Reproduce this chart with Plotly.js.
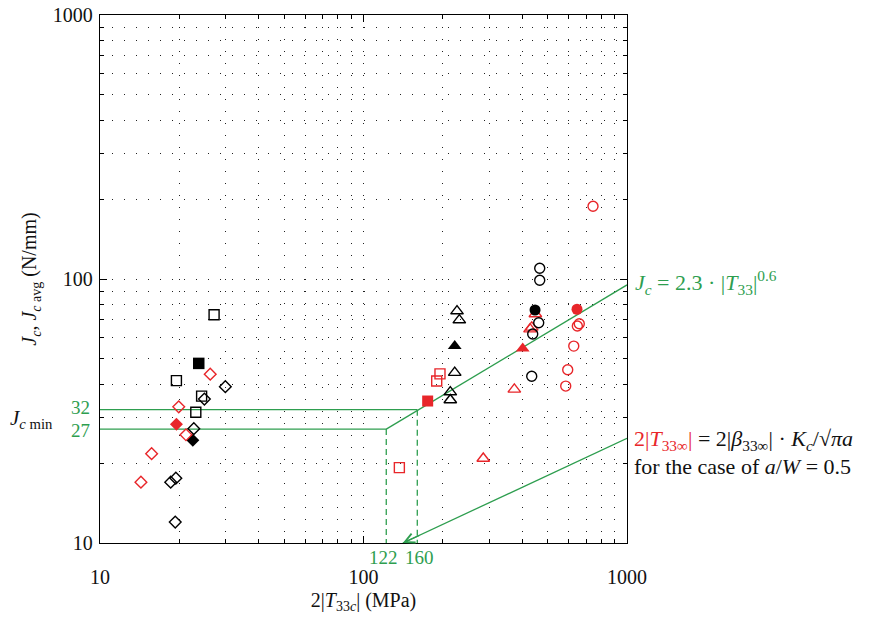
<!DOCTYPE html>
<html>
<head>
<meta charset="utf-8">
<script src="https://cdn.plot.ly/plotly-3.0.1.min.js"></script>
<style>html,body{margin:0;padding:0;background:#fff;}#chart{width:884px;height:617px;}</style>
</head>
<body>
<div id="chart"></div>
<script>
// ---- data ----
const blkOpenSqX = [27.1, 19.5, 24.3, 23.1];
const blkOpenSqY = [73.2, 41.2, 36.0, 31.3];
const blkFillSqX = [23.7];
const blkFillSqY = [47.9];
const blkOpenDiaX = [29.9, 24.9, 22.7, 19.4, 18.55, 19.3];
const blkOpenDiaY = [39.1, 35.1, 27.1, 17.6, 17.0, 12.0];
const blkFillDiaX = [22.5];
const blkFillDiaY = [24.5];
const redOpenDiaX = [26.2, 19.9, 21.2, 15.7, 14.3];
const redOpenDiaY = [43.6, 32.8, 25.7, 21.8, 17.0];
const redFillDiaX = [19.5];
const redFillDiaY = [28.2];
const blkOpenTriX = [226.4, 231.0, 221.9, 213.5, 213.5];
const blkOpenTriY = [75.6, 69.9, 44.2, 37.3, 34.8];
const blkFillTriX = [221.9];
const blkFillTriY = [55.7];
const redOpenTriX = [449.0, 434.9, 428.5, 373.6, 284.8];
const redOpenTriY = [73.7, 65.6, 64.6, 38.2, 20.9];
const redFillTriX = [402.0];
const redFillTriY = [54.6];
const redOpenSqX = [195.1, 189.6, 136.8];
const redOpenSqY = [43.7, 41.1, 19.3];
const redFillSqX = [175.2];
const redFillSqY = [34.5];
const blkOpenCirX = [466.4, 466.4, 462.3, 438.7, 434.9];
const blkOpenCirY = [109.8, 98.9, 68.3, 61.9, 42.8];
const blkFillCirX = [447.7];
const blkFillCirY = [76.3];
const redOpenCirX = [743, 659, 648, 628, 595.7, 585.4];
const redOpenCirY = [188.6, 67.7, 66.4, 55.7, 45.3, 39.3];
const redFillCirX = [646];
const redFillCirY = [76.8];

// reference lines
const jcMinLevels = [32, 27];
const tLimits = [160, 122];
const fitLineX = [122, 1000];
const fitLineY = [27, 95];
const tInfLineX = [141, 1000];
const tInfLineY = [10, 24.9];
const xTickVals = [10, 100, 1000];
const yTickVals = [10, 100, 1000];

const GREEN = '#2e9e4f';
const RED = '#e8262a';
const SERIF = 'Liberation Serif, DejaVu Serif, serif';

function mk(x, y, symbol, color, filled, size) {
  return {
    x: x, y: y, type: 'scatter', mode: 'markers', showlegend: false, hoverinfo: 'x+y',
    marker: {
      symbol: symbol + (filled ? '' : '-open'),
      size: size, color: color,
      line: {color: color, width: filled ? 0 : 1.4}
    }
  };
}
function seg(x, y, dash) {
  return {x: x, y: y, type: 'scatter', mode: 'lines', showlegend: false, hoverinfo: 'skip',
          line: {color: GREEN, width: 1.3, dash: dash || 'solid'}};
}

const traces = [];
traces.push(seg([10, tLimits[0]], [jcMinLevels[0], jcMinLevels[0]]));
traces.push(seg([10, tLimits[1]], [jcMinLevels[1], jcMinLevels[1]]));
traces.push(seg([tLimits[0], tLimits[0]], [jcMinLevels[0], 10], '6px,4px'));
traces.push(seg([tLimits[1], tLimits[1]], [jcMinLevels[1], 10], '6px,4px'));
traces.push(seg(fitLineX, fitLineY));
traces.push(seg(tInfLineX, tInfLineY));

traces.push(mk(blkOpenSqX, blkOpenSqY, 'square', '#000', false, 10));
traces.push(mk(blkFillSqX, blkFillSqY, 'square', '#000', true, 11.5));
traces.push(mk(blkOpenDiaX, blkOpenDiaY, 'diamond', '#000', false, 9));
traces.push(mk(blkFillDiaX, blkFillDiaY, 'diamond', '#000', true, 10));
traces.push(mk(redOpenDiaX, redOpenDiaY, 'diamond', RED, false, 9));
traces.push(mk(redFillDiaX, redFillDiaY, 'diamond', RED, true, 10));
traces.push(mk(blkOpenTriX, blkOpenTriY, 'triangle-up', '#000', false, 11));
traces.push(mk(blkFillTriX, blkFillTriY, 'triangle-up', '#000', true, 12));
traces.push(mk(redOpenTriX, redOpenTriY, 'triangle-up', RED, false, 11));
traces.push(mk(redFillTriX, redFillTriY, 'triangle-up', RED, true, 12));
traces.push(mk(redOpenSqX, redOpenSqY, 'square', RED, false, 10));
traces.push(mk(redFillSqX, redFillSqY, 'square', RED, true, 11));
traces.push(mk(blkOpenCirX, blkOpenCirY, 'circle', '#000', false, 10));
traces.push(mk(blkFillCirX, blkFillCirY, 'circle', '#000', true, 11));
traces.push(mk(redOpenCirX, redOpenCirY, 'circle', RED, false, 10));
traces.push(mk(redFillCirX, redFillCirY, 'circle', RED, true, 11));

const gridCommon = {showgrid: true, gridcolor: '#222', gridwidth: 1, griddash: '1px,11px'};

function axis(tv) {
  return Object.assign({
    type: 'log', range: [1, 3], tickmode: 'array', tickvals: tv, ticktext: tv.map(String),
    ticks: 'inside', ticklen: 7, tickwidth: 1, tickcolor: '#000',
    showline: true, linecolor: '#000', linewidth: 1.3, mirror: 'allticks',
    zeroline: false, tickfont: {family: SERIF, size: 20, color: '#111'},
    minor: Object.assign({dtick: 'D1', ticks: 'inside', ticklen: 4, tickcolor: '#000'}, gridCommon)
  }, gridCommon);
}

const xa = axis(xTickVals);
xa.ticklabelstandoff = 16;
xa.title = {text: '2|<i>T</i><sub>33<i>c</i></sub>| (MPa)', font: {family: SERIF, size: 20, color: '#111'}, standoff: 5};
const ya = axis(yTickVals);
ya.ticklabelstandoff = 2;
ya.title = {text: '<i>J<sub>c</sub></i>, <i>J</i><sub><i>c</i> avg</sub> (N/mm)', font: {family: SERIF, size: 20, color: '#111'}, standoff: 10};

const ann = [];
const aFont = (c, s) => ({family: SERIF, size: s || 22, color: c});
ann.push({xref: 'paper', yref: 'y', x: -0.015, y: Math.log10(jcMinLevels[0]), text: String(jcMinLevels[0]),
          showarrow: false, xanchor: 'right', yanchor: 'middle', yshift: 2, font: aFont(GREEN, 19)});
ann.push({xref: 'paper', yref: 'y', x: -0.015, y: Math.log10(jcMinLevels[1]), text: String(jcMinLevels[1]),
          showarrow: false, xanchor: 'right', yanchor: 'middle', yshift: -1, font: aFont(GREEN, 19)});
ann.push({xref: 'paper', yref: 'y', x: -0.085, y: Math.log10(29.5), text: '<i>J</i><sub><i>c</i> min</sub>',
          showarrow: false, xanchor: 'right', yanchor: 'middle', font: aFont('#111', 21)});
ann.push({xref: 'x', yref: 'paper', x: Math.log10(tLimits[1]), y: 0.0, text: String(tLimits[1]),
          showarrow: false, xanchor: 'center', yanchor: 'top', font: aFont(GREEN, 19), xshift: -3, yshift: -2});
ann.push({xref: 'x', yref: 'paper', x: Math.log10(tLimits[0]), y: 0.0, text: String(tLimits[0]),
          showarrow: false, xanchor: 'center', yanchor: 'top', font: aFont(GREEN, 19), xshift: 2, yshift: -2});
ann.push({xref: 'paper', yref: 'y', x: 1.012, y: Math.log10(fitLineY[1]) + 0.01,
          text: '<i>J<sub>c</sub></i> = 2.3 · |<i>T</i><sub>33</sub>|<sup>0.6</sup>',
          showarrow: false, xanchor: 'left', yanchor: 'middle', font: aFont(GREEN)});
ann.push({xref: 'paper', yref: 'y', x: 1.01, y: Math.log10(tInfLineY[1]) - 0.005,
          text: '<span style="color:' + RED + '">2|<i>T</i><sub>33∞</sub>|</span> = 2|<i>β</i><sub>33∞</sub>| · <i>K<sub>c</sub></i>/√<i>πa</i>',
          showarrow: false, xanchor: 'left', yanchor: 'middle', font: aFont('#111')});
ann.push({xref: 'paper', yref: 'y', x: 1.01, y: Math.log10(tInfLineY[1]) - 0.105,
          text: 'for the case of <i>a</i>/<i>W</i> = 0.5',
          showarrow: false, xanchor: 'left', yanchor: 'middle', font: aFont('#111')});
ann.push({xref: 'x', yref: 'y', x: Math.log10(tInfLineX[0]), y: Math.log10(tInfLineY[0]),
          text: '', showarrow: true, arrowhead: 5, arrowsize: 1.6, arrowwidth: 1.2, arrowcolor: GREEN,
          ax: 18, ay: -8.3, axref: 'pixel', ayref: 'pixel'});

const layout = {
  width: 884, height: 617,
  margin: {l: 100, r: 257, t: 15, b: 74},
  paper_bgcolor: '#fff', plot_bgcolor: '#fff',
  xaxis: xa, yaxis: ya, annotations: ann, showlegend: false,
  font: {family: SERIF}
};

Plotly.newPlot('chart', traces, layout, {displayModeBar: false, staticPlot: true});
</script>
</body>
</html>
